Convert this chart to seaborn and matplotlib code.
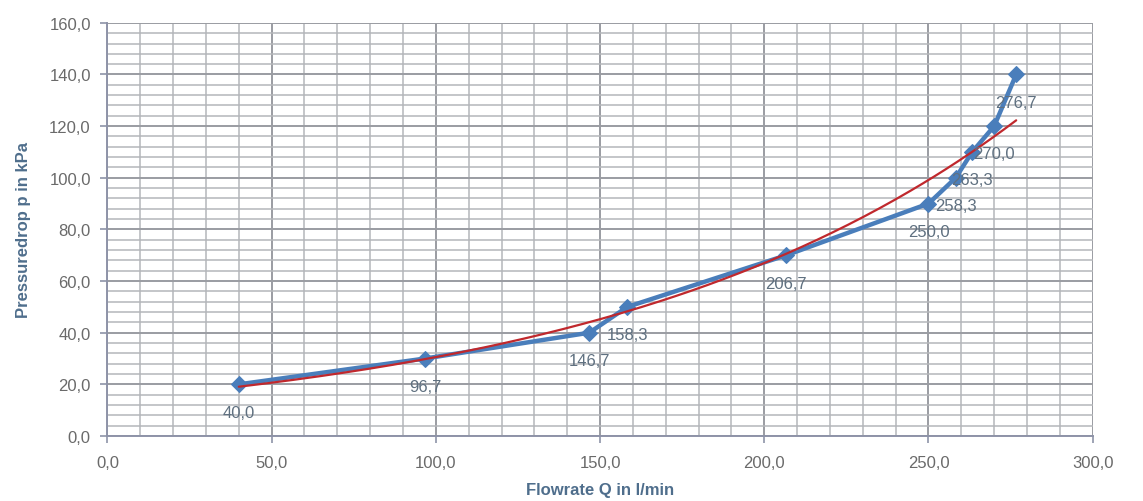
import numpy as np
import pandas as pd
import matplotlib
matplotlib.use("Agg")
import matplotlib.pyplot as plt
import seaborn as sns
from matplotlib.ticker import MultipleLocator, FuncFormatter

# Data
flowrate = [40.0, 96.7, 146.7, 158.3, 206.7, 250.0, 258.3, 263.3, 270.0, 276.7]
pressure = [20.0, 30.0, 40.0, 50.0, 70.0, 90.0, 100.0, 110.0, 120.0, 140.0]
x_ticks = [0, 50, 100, 150, 200, 250, 300]
y_ticks = [0, 20, 40, 60, 80, 100, 120, 140, 160]

df = pd.DataFrame({"Q": flowrate, "p": pressure})

# Exponential trendline fitted to the data (as in the spreadsheet)
b, ln_a = np.polyfit(df["Q"], np.log(df["p"]), 1)
q_fit = np.linspace(min(flowrate), max(flowrate), 200)
trend = pd.DataFrame({"Q": q_fit, "p": np.exp(ln_a) * np.exp(b * q_fit)})

sns.set_theme(style="white")
plt.rcParams["font.family"] = ["Liberation Sans", "DejaVu Sans"]

fig = plt.figure(figsize=(11.43, 5.02), dpi=100)
ax = fig.add_axes([0.094, 0.1295, 0.862, 0.823])

ax.set_xlim(0, 300)
ax.set_ylim(0, 160)
ax.xaxis.set_major_locator(MultipleLocator(50))
ax.xaxis.set_minor_locator(MultipleLocator(10))
ax.yaxis.set_major_locator(MultipleLocator(20))
ax.yaxis.set_minor_locator(MultipleLocator(4))
ax.grid(which="major", color="#9a9ca2", linewidth=1.4)
ax.grid(which="minor", color="#b4b6ba", linewidth=1.1)
ax.set_axisbelow(True)

sns.lineplot(data=df, x="Q", y="p", ax=ax, color="#4a7ebb", linewidth=3.2,
             marker="D", markersize=8, markeredgecolor="#4a7ebb", zorder=3)
sns.lineplot(data=trend, x="Q", y="p", ax=ax, color="#c0282d", linewidth=1.6, zorder=4)

for q, p in zip(flowrate, pressure):
    ax.annotate(f"{q:.1f}".replace(".", ","), (q, p), xytext=(0, -20),
                textcoords="offset points", ha="center", va="center",
                fontsize=12, color="#5f7080", zorder=5)

fmt = FuncFormatter(lambda v, pos: f"{v:.1f}".replace(".", ","))
ax.xaxis.set_major_formatter(fmt)
ax.yaxis.set_major_formatter(fmt)
ax.set_xticks(x_ticks)
ax.set_yticks(y_ticks)

for s in ["top", "right"]:
    ax.spines[s].set_visible(False)
for s in ["left", "bottom"]:
    ax.spines[s].set_color("#8e93a8")
    ax.spines[s].set_linewidth(1.4)

ax.tick_params(axis="both", which="major", direction="out", length=5, width=1.2,
               color="#8e93a8", labelsize=12, labelcolor="#6a6a6a", pad=7,
               bottom=True, left=True)
ax.tick_params(axis="x", which="major", pad=9)
ax.tick_params(axis="both", which="minor", length=0)

ax.set_xlabel("Flowrate Q in l/min", fontsize=12, fontweight="bold", color="#4f6e8c", labelpad=8)
ax.set_ylabel("Pressuredrop p in kPa", fontsize=12, fontweight="bold", color="#4f6e8c", labelpad=13)

fig.savefig("out.png", dpi=100, facecolor="white")
